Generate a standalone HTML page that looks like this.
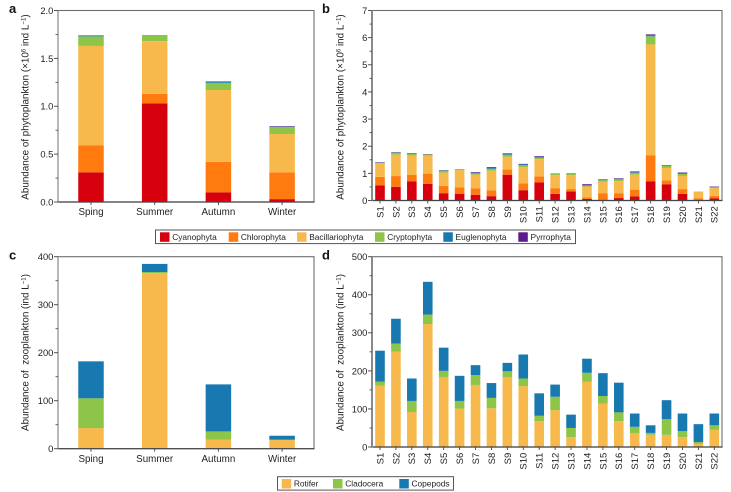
<!DOCTYPE html>
<html>
<head>
<meta charset="utf-8">
<style>
html,body{margin:0;padding:0;background:#fff;}
svg{display:block;}
text{font-family:"Liberation Sans",sans-serif;font-size:9.8px;fill:#222;white-space:pre;}
.panel{font-weight:bold;font-size:13px;fill:#111;}
.ytick{font-size:9.4px;}
.site{font-size:9.5px;}
.legend{font-size:8.35px;}
.title{font-size:9.85px;}
.sup{font-size:6.2px;}
</style>
</head>
<body>
<svg id="fig" width="731" height="492" viewBox="0 0 731 492" xmlns="http://www.w3.org/2000/svg"></svg>
<script>
// Category labels
var seasons = ["Sping","Summer","Autumn","Winter"];
var sites = ["S1","S2","S3","S4","S5","S6","S7","S8","S9","S10","S11","S12","S13","S14","S15","S16","S17","S18","S19","S20","S21","S22"];

// Series names and colours
var phytoNames = ["Cyanophyta","Chlorophyta","Bacillariophyta","Cryptophyta","Euglenophyta","Pyrrophyta"];
var zooNames = ["Rotifer","Cladocera","Copepods"];
var phytoColors = ["#d7000f","#ff7a0f","#f8b94c","#8cc548","#1878b0","#5e1a8c"];
var zooColors = ["#f8b94c","#8cc548","#1878b0"];

// Panel a values
var aCyanophyta = [0.31,1.03,0.10,0.03];
var aChlorophyta = [0.28,0.10,0.32,0.28];
var aBacillariophyta = [1.04,0.55,0.75,0.40];
var aCryptophyta = [0.10,0.055,0.075,0.075];
var aEuglenophyta = [0.008,0.003,0.012,0.002];
var aPyrrophyta = [0.002,0.002,0.003,0.005];

// Panel b values
var bCyanophyta = [0.56,0.50,0.71,0.61,0.27,0.25,0.21,0.16,0.95,0.38,0.67,0.245,0.33,0.06,0.01,0.09,0.15,0.70,0.60,0.245,0.01,0.085];
var bChlorophyta = [0.31,0.40,0.23,0.38,0.27,0.23,0.24,0.21,0.19,0.245,0.22,0.21,0.09,0.06,0.26,0.18,0.25,0.97,0.135,0.175,0.075,0.085];
var bBacillariophyta = [0.50,0.79,0.72,0.66,0.49,0.64,0.50,0.73,0.48,0.60,0.63,0.48,0.52,0.395,0.43,0.44,0.555,4.08,0.465,0.485,0.235,0.285];
var bCryptophyta = [0.02,0.07,0.07,0.05,0.07,0.04,0.05,0.07,0.07,0.085,0.06,0.07,0.04,0.035,0.05,0.07,0.065,0.30,0.09,0.075,0.01,0.035];
var bEuglenophyta = [0.01,0.01,0.01,0.00,0.01,0.00,0.01,0.03,0.03,0.02,0.02,0.00,0.01,0.02,0.01,0.02,0.02,0.04,0.005,0.02,0.00,0.01];
var bPyrrophyta = [0.01,0.01,0.01,0.01,0.01,0.00,0.03,0.03,0.02,0.02,0.03,0.00,0.01,0.03,0.02,0.02,0.03,0.03,0.005,0.03,0.00,0.015];

// Panel c values
var cRotifer = [43,366,19,18];
var cCladocera = [62,2,17,1];
var cCopepods = [77,17,98,8];

// Panel d values
var dRotifer = [161,251,92,323,184,101,163,102,183,160,68,97,26,172,114,68,36,32,32,26,8,45];
var dCladocera = [11,21,29,25,16,20,26,27,16,20,14,35,24,23,20,23,17,5,41,16,5,12];
var dCopepods = [81,65,59,86,61,66,26,39,22,63,59,32,35,37,60,78,35,20,50,46,47,31];

// Tick labels
var aTicks = ["0.0","0.5","1.0","1.5","2.0"];
var bTicks = ["0","1","2","3","4","5","6","7"];
var cTicks = ["0","100","200","300","400"];
var dTicks = ["0","100","200","300","400","500"];

var NS = "http://www.w3.org/2000/svg";
var fig = document.getElementById("fig");

function make(tag, attrs, parent){
  var el = document.createElementNS(NS, tag);
  for (var k in attrs) { el.setAttribute(k, attrs[k]); }
  (parent || fig).appendChild(el);
  return el;
}

function axisTitle(g, x, yMid, main, sup1, mid, sup2, end){
  var t = make("text", {transform:"translate("+x+","+yMid+") rotate(-90)", "text-anchor":"middle", "class":"title"}, g);
  
  
  t.appendChild(document.createTextNode(main));
  if (sup1) {
    var s1 = make("tspan", {dy:"-3", "class":"sup"}, t);
    s1.textContent = sup1;
    var m = make("tspan", {dy:"3"}, t);
    m.textContent = mid;
  }
  var s2 = make("tspan", {dy:"-3", "class":"sup"}, t);
  s2.textContent = sup2;
  var e = make("tspan", {dy:"3"}, t);
  e.textContent = end;
}

function drawPanel(cfg){
  var g = make("g", {});
  
  

  var L = cfg.left, R = cfg.right, T = cfg.top, B = cfg.bottom;
  var n = cfg.categories.length;
  var tickVals = cfg.ticks.map(Number);
  var yMax = tickVals[tickVals.length - 1];
  var yMin = tickVals[0];
  var step = tickVals[1] - tickVals[0];
  function yScale(v){ return B - (v - yMin) / (yMax - yMin) * (B - T); }
  function xScale(i){ return cfg.x0 + i * cfg.dx; }

  // bars
  for (var i = 0; i < n; i++) {
    var acc = 0;
    for (var s = 0; s < cfg.series.length; s++) {
      var v = cfg.series[s][i];
      if (v <= 0) { continue; }
      var y1 = yScale(acc), y2 = yScale(acc + v);
      var r = make("rect", {x:xScale(i) - cfg.barW / 2, y:y2, width:cfg.barW, height:Math.max(y1 - y2, 0.3), fill:cfg.colors[s]}, g);
      
      
      acc += v;
    }
  }

  // frame
  var frame = make("rect", {x:L, y:T, width:R - L, height:B - T, fill:"none", stroke:"#6e6e6e", "stroke-width":1.1}, g);
  
  
  var base = make("line", {x1:L - 0.5, x2:R + 0.5, y1:B, y2:B, stroke:"#444", "stroke-width":1.2}, g);
  
  
  var yl = make("line", {x1:L, x2:L, y1:T - 0.5, y2:B + 0.5, stroke:"#8a8a8a", "stroke-width":cfg.leftW}, g);
  
  

  // y ticks
  cfg.ticks.forEach(function(lbl, idx){
    var v = tickVals[idx];
    var y = yScale(v);
    var tk = make("line", {x1:L - 4, x2:L, y1:y, y2:y, stroke:"#444", "stroke-width":0.9}, g);
    
    
    if (idx < cfg.ticks.length - 1) {
      var ym = yScale(v + step / 2);
      var mt = make("line", {x1:L - 2.5, x2:L, y1:ym, y2:ym, stroke:"#444", "stroke-width":0.8}, g);
      
      
    }
    var t = make("text", {x:L - 4.6, y:y + 3.4, "text-anchor":"end", "class":"ytick"}, g);
    
    
    t.textContent = lbl;
  });

  // x ticks and labels
  cfg.categories.forEach(function(lbl, idx){
    var x = xScale(idx);
    var tk = make("line", {x1:x, x2:x, y1:B, y2:B + 3, stroke:"#444", "stroke-width":0.9}, g);
    
    
    var t;
    if (cfg.rotated) {
      t = make("text", {transform:"translate("+(x + 3.4)+","+(B + 5.7)+") rotate(-90)", "text-anchor":"end", "class":"site"}, g);
    } else {
      t = make("text", {x:x, y:B + 13.2, "text-anchor":"middle"}, g);
    }
    
    
    t.textContent = lbl;
  });

  var p = make("text", {x:cfg.letterX, y:cfg.letterY, "class":"panel"}, g);
  
  
  p.textContent = cfg.letter;
  return g;
}

var gA = drawPanel({name:"panel-a", letter:"a", letterX:9, letterY:13, left:58, right:314, top:10.5, bottom:202,
  x0:91, dx:63.7, barW:25.5, categories:seasons, ticks:aTicks, leftW:1.1, rotated:false,
  series:[aCyanophyta,aChlorophyta,aBacillariophyta,aCryptophyta,aEuglenophyta,aPyrrophyta], colors:phytoColors});
axisTitle(gA, 28.5, 107, "Abundance of phytoplankton (×10", "6", " ind L", "−1", ")");

var gB = drawPanel({name:"panel-b", letter:"b", letterX:322, letterY:13, left:372, right:722, top:10.5, bottom:200.5,
  x0:380, dx:15.92, barW:9.6, categories:sites, ticks:bTicks, leftW:2, rotated:true,
  series:[bCyanophyta,bChlorophyta,bBacillariophyta,bCryptophyta,bEuglenophyta,bPyrrophyta], colors:phytoColors});
axisTitle(gB, 343.5, 107, "Abundance of phytoplankton (×10", "6", " ind L", "−1", ")");

var gC = drawPanel({name:"panel-c", letter:"c", letterX:9, letterY:259.5, left:58, right:314, top:256.7, bottom:448.7,
  x0:91, dx:63.7, barW:25.5, categories:seasons, ticks:cTicks, leftW:1.1, rotated:false,
  series:[cRotifer,cCladocera,cCopepods], colors:zooColors});
axisTitle(gC, 28.5, 352.5, "Abundance of  zooplankton (ind L", null, null, "−1", ")");

var gD = drawPanel({name:"panel-d", letter:"d", letterX:322, letterY:259.5, left:372, right:722, top:256.7, bottom:447,
  x0:380, dx:15.92, barW:9.6, categories:sites, ticks:dTicks, leftW:2, rotated:true,
  series:[dRotifer,dCladocera,dCopepods], colors:zooColors});
axisTitle(gD, 343.5, 352.5, "Abundance of  zooplankton (ind L", null, null, "−1", ")");

function drawLegend(name, x, y, w, h, names, colors, swatchXs){
  var g = make("g", {});
  
  
  var box = make("rect", {x:x, y:y, width:w, height:h, fill:"#fff", stroke:"#555", "stroke-width":1}, g);
  
  
  names.forEach(function(nm, i){
    var sw = make("rect", {x:swatchXs[i], y:y + 2.3, width:9.5, height:9.5, fill:colors[i]}, g);
    
    
    var t = make("text", {x:swatchXs[i] + 12.2, y:y + 10, "class":"legend"}, g);
    
    
    t.textContent = nm;
  });
}
drawLegend("phytoplankton-legend", 155.5, 230, 420, 13.6, phytoNames, phytoColors, [160,228.7,297,375,443.3,518.3]);
drawLegend("zooplankton-legend", 277.5, 476.7, 176, 13.4, zooNames, zooColors, [281.7,333,399.3]);
</script>
</body>
</html>
